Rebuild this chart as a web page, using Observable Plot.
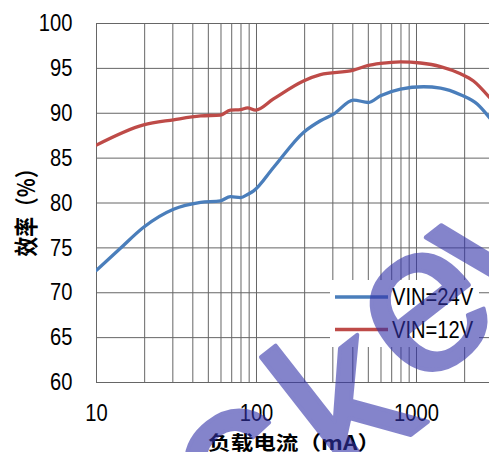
<!DOCTYPE html>
<html><head><meta charset="utf-8">
<script src="https://cdn.jsdelivr.net/npm/d3@7"></script>
<script src="https://cdn.jsdelivr.net/npm/@observablehq/plot@0.6"></script>
<style>
html,body{margin:0;padding:0;background:#fff;}
#chart{position:relative;width:489px;height:452px;overflow:hidden;}
#wm{position:absolute;left:0;top:0;pointer-events:none;}
</style></head>
<body><div id="chart"></div>
<script>
// load current (mA)
const loadVin24 = [10, 14, 19.7, 30.3, 44.7, 59.6, 68.7, 79.4, 89, 96, 127.7, 196.6, 251, 302.9, 403.9, 501, 595.7, 794, 1106, 1413, 1884, 2405, 2860];
const effVin24  = [72.5, 74.9, 77.3, 79.3, 80.06, 80.25, 80.7, 80.6, 81.0, 81.35, 83.95, 87.86, 89.16, 89.9, 91.47, 91.2, 91.94, 92.69, 92.95, 92.8, 92.06, 91.0, 89.5];
const loadVin12 = [10, 19.7, 30.3, 44.7, 59.6, 68.7, 79.4, 87.9, 98.6, 127.7, 196.6, 251, 403.9, 494, 595.7, 794, 1059, 1413, 1884, 2271, 2860];
const effVin12  = [86.45, 88.7, 89.27, 89.7, 89.8, 90.35, 90.4, 90.6, 90.35, 91.6, 93.6, 94.3, 94.8, 95.3, 95.55, 95.73, 95.6, 95.2, 94.4, 93.6, 91.75];
const xTicks = [10, 100, 1000];
const xGrid = [10,20,30,40,50,60,70,80,90,100,200,300,400,500,600,700,800,900,1000,2000];
const yTicks = [60, 65, 70, 75, 80, 85, 90, 95, 100];
const seriesNames = ["VIN=24V", "VIN=12V"];
const seriesColors = ["#4a7ebb", "#be4b48"];
const xLabel = "负载电流（mA）";
const yLabel = "效率（%）";
const watermark = ["c", "k", "e", "y"];

const d24 = loadVin24.map((x,i)=>({x, y: effVin24[i]}));
const d12 = loadVin12.map((x,i)=>({x, y: effVin12[i]}));
const numFont = "'Liberation Sans',Arial,sans-serif";
const cjkFont = "'Noto Sans CJK SC','Noto Sans',sans-serif";

const plot = Plot.plot({
  width: 489, height: 452,
  marginLeft: 96, marginRight: 0, marginTop: 23, marginBottom: 70,
  style: {background: "transparent", overflow: "visible"},
  x: {type: "log", domain: [10, 2860], axis: null},
  y: {domain: [60, 100], axis: null},
  marks: [
    Plot.ruleX(xGrid, {stroke: "#666", strokeWidth: 1}),
    Plot.ruleY(yTicks, {stroke: "#666", strokeWidth: 1}),
    Plot.line(d24, {x: "x", y: "y", stroke: seriesColors[0], strokeWidth: 3.3, curve: "monotone-x", clip: true}),
    Plot.line(d12, {x: "x", y: "y", stroke: seriesColors[1], strokeWidth: 3.3, curve: "monotone-x", clip: true}),
    Plot.text(xTicks, {x: d=>d, frameAnchor: "bottom", dy: 31, lineAnchor: "middle", text: d=>String(d), fontSize: 24, fontFamily: numFont, fill: "#000", className: "num"}),
    Plot.text(yTicks, {y: d=>d, frameAnchor: "left", dx: -24, textAnchor: "end", lineAnchor: "middle", text: d=>String(d), fontSize: 24, fontFamily: numFont, fill: "#000", className: "num"})
  ]
});
document.getElementById("chart").appendChild(plot);
const svg = d3.select(plot);

// narrow the digit glyphs around each text's anchor
const isNum = s => s != null && /^-?[\d.]+$/.test(s);
function squeeze(sel, sx, sy) {
  sel.each(function() {
    const el = this;
    let t = el.getAttribute("transform") || "";
    const xa = el.getAttribute("x"), ya = el.getAttribute("y");
    let tx = 0, ty = 0;
    if (isNum(xa)) { tx = +xa; el.removeAttribute("x"); }
    if (isNum(ya)) { ty = +ya; el.removeAttribute("y"); }
    if (tx || ty) t += ` translate(${tx},${ty})`;
    el.setAttribute("transform", `${t} scale(${sx},${sy})`);
  });
}
squeeze(svg.selectAll("g.num text"), 0.84, 1);

// axis titles
svg.append("text")
  .attr("transform", "translate(294,441)")
  .attr("text-anchor", "middle").attr("dominant-baseline", "central")
  .attr("font-family", cjkFont).attr("font-weight", "bold").attr("font-size", 19.5)
  .attr("textLength", 172).attr("lengthAdjust", "spacingAndGlyphs")
  .attr("fill", "#000").text(xLabel);
svg.append("text")
  .attr("transform", "translate(24,207.5) rotate(-90)")
  .attr("text-anchor", "middle").attr("dominant-baseline", "central")
  .attr("font-family", cjkFont).attr("font-weight", "bold").attr("font-size", 24)
  .attr("textLength", 98).attr("lengthAdjust", "spacingAndGlyphs")
  .attr("fill", "#000").text(yLabel);

// legend
const lg = svg.append("g");
lg.append("rect").attr("x", 330).attr("y", 280).attr("width", 149).attr("height", 67).attr("fill", "#fff");
seriesNames.forEach((name, i) => {
  const yy = 297 + i * 32.5;
  lg.append("line").attr("x1", 335).attr("x2", 388).attr("y1", yy).attr("y2", yy)
    .attr("stroke", seriesColors[i]).attr("stroke-width", 3.3);
  lg.append("text").attr("transform", `translate(392,${yy}) scale(0.84,1)`).attr("dy", "0.35em")
    .attr("text-anchor", "start")
    .attr("font-family", numFont).attr("font-size", 24).attr("fill", "#000").text(name);
});

// watermark overlay (separate svg on top)
const wmCenters = [[245, 478], [352, 411], [428, 313], [502, 250]];
const wmSizes = [240, 212, 212, 212];
const wm = d3.select("#chart").append("svg").attr("id", "wm").attr("width", 489).attr("height", 452);
const wg = wm.append("g").attr("opacity", 0.6);
watermark.forEach((ch, i) => {
  const [cx, cy] = wmCenters[i];
  const fs = wmSizes[i];
  wg.append("text")
    .attr("transform", `translate(${cx},${cy}) rotate(-38)`)
    .attr("x", 0).attr("y", 0.26 * fs)
    .attr("text-anchor", "middle")
    .attr("style", `font: ${fs}px 'Liberation Sans', Arial, sans-serif; fill: #3333aa; stroke: #3333aa; stroke-width: 4px; stroke-linejoin: round;`)
    .text(ch);
});
</script>
</body></html>
